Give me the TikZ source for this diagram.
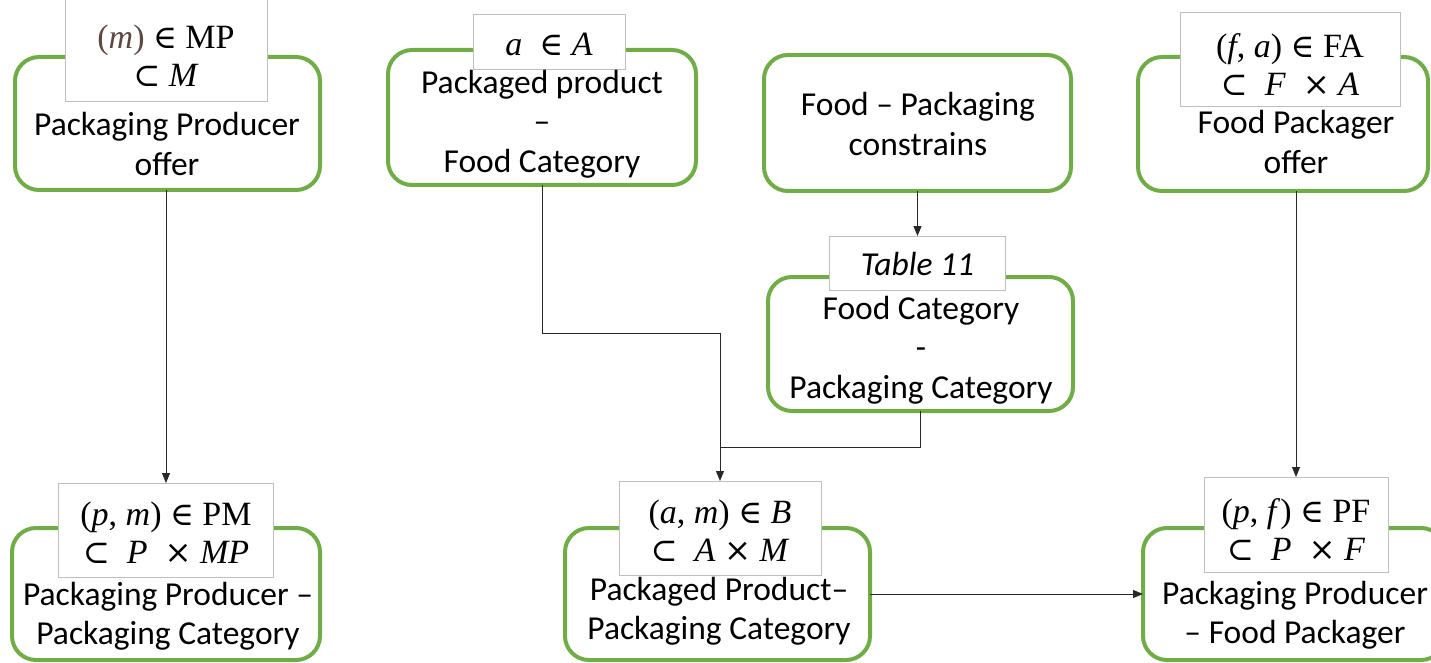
\documentclass[tikz,border=0pt]{standalone}
\usepackage{fontspec}
\setmainfont{Carlito}
\newfontfamily\serifm{Liberation Serif}
\newfontfamily\symf[Scale=0.95]{DejaVu Serif}
\newcommand{\vin}{{\symf ∈}}
\newcommand{\vsub}{{\symf ⊂}}
\newcommand{\vtimes}{{\symf ×}}
\newcommand{\vv}[1]{\textit{#1}}
\usetikzlibrary{arrows.meta}
\definecolor{grn}{RGB}{112,173,71}
\definecolor{lgray}{RGB}{190,190,190}
\definecolor{brn}{RGB}{95,72,68}
\definecolor{conncol}{RGB}{40,40,40}
\begin{document}
\begin{tikzpicture}[x=1pt,y=-1pt,
  gbox/.style={draw=grn, line width=4pt, rounded corners=24pt, inner sep=0pt, outer sep=0pt},
  lbox/.style={draw=lgray, line width=1pt, fill=white, inner sep=0pt, outer sep=0pt},
  txt/.style={align=center, inner sep=0pt, font=\fontsize{33.5}{39.5}\selectfont},
  mth/.style={align=center, inner sep=0pt, font=\serifm\fontsize{34}{38}\selectfont},
  conn/.style={draw=conncol, line width=1pt},
  arr/.style={conn, -{Triangle[length=10pt,width=8pt]}}]
\useasboundingbox (0,0) rectangle (1431,663);
\clip (0,0) rectangle (1431,663);

% top row
\node[gbox, minimum width=305pt, minimum height=133pt] (B1) at (167.5,123.5) {};
\node[lbox, minimum width=202pt, minimum height=106pt] (L1) at (166,49) {};
\node[mth] (m1) at (166,56) {\textcolor{brn}{(\vv{m})} \vin{} MP\\\vsub{} \vv{M}};
\node[txt] (t1) at (167,144) {Packaging Producer\\offer};

\node[gbox, minimum width=308pt, minimum height=135pt] (B2) at (542,117.5) {};
\node[lbox, minimum width=152pt, minimum height=55pt] (L2) at (549,42.5) {};
\node[mth] (m2) at (549,44) {\vv{a}\ \ \vin{} \vv{A}};
\node[txt] (t2) at (542,124) {Packaged product\\–\\Food Category};

\node[gbox, minimum width=307pt, minimum height=136pt] (B3) at (917.5,123) {};
\node[txt] (t3) at (918,124) {Food – Packaging\\constrains};

\node[gbox, minimum width=290pt, minimum height=134pt] (B4) at (1283,124) {};
\node[lbox, minimum width=220pt, minimum height=94pt] (L4) at (1290,60) {};
\node[mth] (m4) at (1290,65) {(\vv{f}, \vv{a}) \vin{} FA\\\vsub{}\ \ \vv{F}\ \ \vtimes{} \vv{A}};
\node[txt] (t4) at (1296,142) {Food Packager\\offer};

% middle
\node[gbox, minimum width=305pt, minimum height=134pt] (B5) at (920.5,344) {};
\node[lbox, minimum width=176pt, minimum height=54pt] (L5) at (917.5,263) {};
\node[txt] (m5) at (917.5,264) {\itshape Table 11};
\node[txt] (t5) at (921,350) {Food Category\\-\\Packaging Category};

% bottom row
\node[gbox, minimum width=308pt, minimum height=132pt] (B6) at (166,594) {};
\node[lbox, minimum width=215pt, minimum height=94pt] (L6) at (166,530) {};
\node[mth] (m6) at (166,533) {(\vv{p}, \vv{m}) \vin{} PM\\\vsub{}\ \ \vv{P}\ \ \vtimes{} \vv{MP}};
\node[txt] (t6) at (168,616) {Packaging Producer –\\Packaging Category};

\node[gbox, minimum width=305pt, minimum height=132pt] (B7) at (717.5,594) {};
\node[lbox, minimum width=202pt, minimum height=94pt] (L7) at (720,528) {};
\node[mth] (m7) at (720,531) {(\vv{a}, \vv{m}) \vin{} \vv{B}\\\vsub{}\ \ \vv{A} \vtimes{} \vv{M}};
\node[txt] (t7) at (719,611) {Packaged Product–\\Packaging Category};

\node[gbox, minimum width=302pt, minimum height=132pt] (B8) at (1294,594) {};
\node[lbox, minimum width=184pt, minimum height=95pt] (L8) at (1296,524.5) {};
\node[mth] (m8) at (1296,530) {(\vv{p}, \vv{f}) \vin{} PF\\\vsub{}\ \ \vv{P}\ \ \vtimes{} \vv{F}};
\node[txt] (t8) at (1295,615) {Packaging Producer\\– Food Packager};

% connectors
\coordinate (bendA) at (720,333);
\coordinate (merge) at (720,447);
\draw[arr] (L6.north |- B1.south) -- (L6.north);
\draw[arr] (B2.south) |- (bendA) -- (L7.north);
\draw[conn] (B5.south) |- (merge);
\draw[arr] (B3.south) -- (L5.north);
\draw[arr] (L8.north |- B4.south) -- (L8.north);
\draw[arr] (B7.east) -- (B8.west);
\end{tikzpicture}
\end{document}
